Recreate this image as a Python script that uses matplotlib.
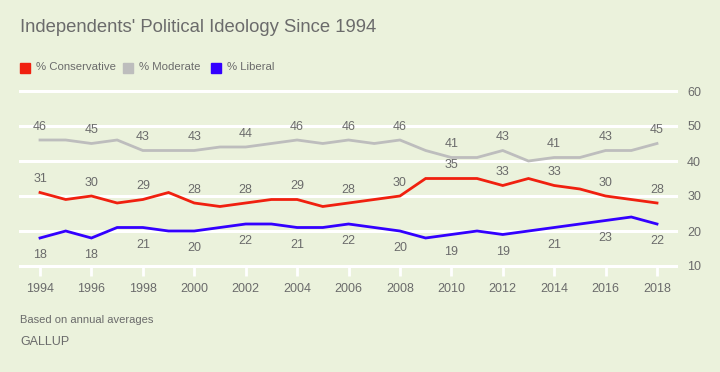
import matplotlib
matplotlib.use("Agg")
import matplotlib.pyplot as plt
from matplotlib.patches import Rectangle

years = list(range(1994, 2019))
conservative = [31, 29, 30, 28, 29, 31, 28, 27, 28, 29, 29, 27, 28,
                29, 30, 35, 35, 35, 33, 35, 33, 32, 30, 29, 28]
moderate = [46, 46, 45, 46, 43, 43, 43, 44, 44, 45, 46, 45, 46,
            45, 46, 43, 41, 41, 43, 40, 41, 41, 43, 43, 45]
liberal = [18, 20, 18, 21, 21, 20, 20, 21, 22, 22, 21, 21, 22,
           21, 20, 18, 19, 20, 19, 20, 21, 22, 23, 24, 22]

series_names = ["% Conservative", "% Moderate", "% Liberal"]
x_ticks = list(range(1994, 2019, 2))
y_ticks = [10, 20, 30, 40, 50, 60]

BG = "#EBF2DC"
TXT = "#6B6B6B"
RED = "#F0200F"
GREY = "#BDBDBD"
BLUE = "#3300FF"

plt.rcParams["font.family"] = ["Liberation Sans", "DejaVu Sans"]

fig = plt.figure(figsize=(7.2, 3.72), dpi=100, facecolor=BG)
ax = fig.add_axes([20 / 720, 1 - 266 / 372, 656 / 720, 175 / 372])
ax.set_facecolor(BG)

ax.set_xlim(1994 - 20 / 25.7, 2018 + 19 / 25.7)
ax.set_ylim(10, 60)
for s in ax.spines.values():
    s.set_visible(False)

for v in y_ticks:
    ax.axhline(v, color="white", lw=2.2, zorder=1, clip_on=False)

ax.set_yticks(y_ticks)
ax.yaxis.tick_right()
ax.tick_params(axis="y", length=0, pad=8, labelsize=9, labelcolor=TXT)
ax.set_xticks(x_ticks)
ax.set_xticklabels([str(y) for y in x_ticks])
ax.tick_params(axis="x", length=7, width=2, color="white", pad=5,
               labelsize=9, labelcolor=TXT)

colors = [GREY, RED, BLUE]
data = [moderate, conservative, liberal]
for vals, c in zip(data, colors):
    ax.plot(years, vals, color=c, lw=2, zorder=3, solid_joinstyle="miter")

# data labels on even years
for i, yr in enumerate(years):
    if yr % 2:
        continue
    ax.annotate(str(moderate[i]), (yr, moderate[i]), xytext=(0, 9.5),
                textcoords="offset points", ha="center", va="center",
                fontsize=9, color=TXT)
    ax.annotate(str(conservative[i]), (yr, conservative[i]), xytext=(0, 9.5),
                textcoords="offset points", ha="center", va="center",
                fontsize=9, color=TXT)
    ax.annotate(str(liberal[i]), (yr, liberal[i]), xytext=(0, -12.5),
                textcoords="offset points", ha="center", va="center",
                fontsize=9, color=TXT)

fig.text(20 / 720, 1 - 28 / 372, "Independents' Political Ideology Since 1994",
         fontsize=13.3, color=TXT, va="center", ha="left")

# legend
leg_x = [20, 123, 211]
for lx, name, c in zip(leg_x, series_names, [RED, GREY, BLUE]):
    fig.patches.append(Rectangle((lx / 720, 1 - 73 / 372), 10 / 720, 10 / 372,
                                 transform=fig.transFigure, color=c))
    fig.text((lx + 16) / 720, 1 - 67.5 / 372, name, fontsize=8.2,
             color=TXT, va="center", ha="left")

fig.text(20 / 720, 1 - 320 / 372, "Based on annual averages", fontsize=8,
         color=TXT, va="center", ha="left")
fig.text(20 / 720, 1 - 342 / 372, "GALLUP", fontsize=9,
         color=TXT, va="center", ha="left")

fig.savefig("out.png", dpi=100, facecolor=BG)
